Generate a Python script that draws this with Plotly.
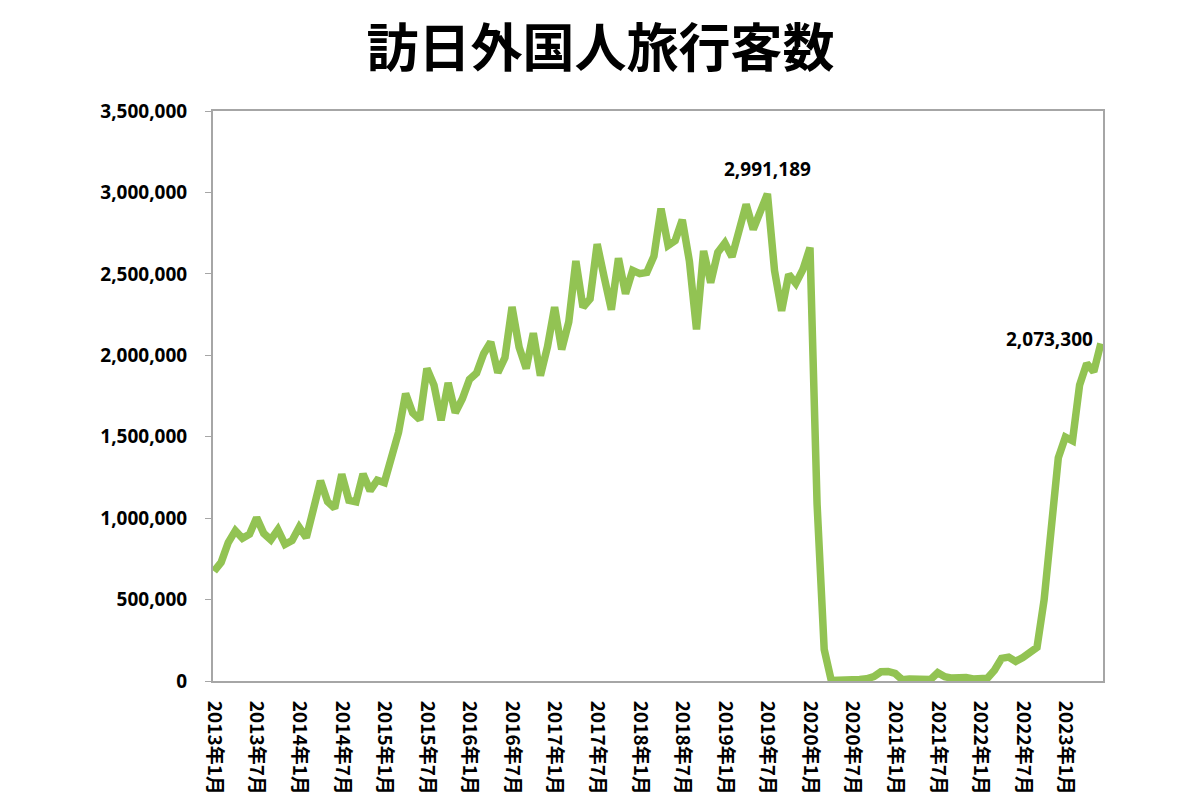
import plotly.graph_objects as go

# Monthly visitor arrivals, Jan 2013 - Jun 2023
years = list(range(2013, 2024))
visitors = [
    # 2013
    673800, 728700, 850300, 923000, 876300, 901400, 1003000, 906400, 867200, 929400, 839300, 862600,
    # 2014
    944000, 880100, 1054100, 1229300, 1101200, 1061200, 1270000, 1109400, 1100300, 1271300, 1168400, 1233000,
    # 2015
    1218200, 1387000, 1526400, 1764600, 1646000, 1604800, 1918400, 1817000, 1601300, 1830700, 1647600, 1733000,
    # 2016
    1851900, 1891400, 2009500, 2081600, 1893900, 1985700, 2296500, 2049200, 1918200, 2135900, 1875400, 2052600,
    # 2017
    2295700, 2035800, 2205700, 2579000, 2294700, 2346400, 2682500, 2478100, 2280000, 2595400, 2378200, 2521400,
    # 2018
    2501400, 2509300, 2607900, 2900700, 2675100, 2704600, 2832000, 2578000, 2159600, 2640600, 2446100, 2632000,
    # 2019
    2689300, 2604300, 2760100, 2926700, 2773100, 2880000, 2991189, 2520100, 2272900, 2496600, 2441300, 2526400,
    # 2020
    2661000, 1085100, 193700, 2900, 1700, 2600, 3800, 8700, 13700, 27400, 56700, 58700,
    # 2021
    46500, 7400, 12300, 10900, 10000, 9300, 51100, 25900, 17700, 22100, 20700, 12100,
    # 2022
    17800, 16700, 66100, 139500, 147000, 120400, 144500, 169900, 206600, 498600, 934500, 1370100,
    # 2023
    1497300, 1475300, 1817500, 1949100, 1899200, 2073300,
]
month_labels = []
for y in years:
    for m in range(1, 13):
        month_labels.append(f"{y}年{m}月")
month_labels = month_labels[:len(visitors)]

title_text = "訪日外国人旅行客数"
y_ticks = [0, 500000, 1000000, 1500000, 2000000, 2500000, 3000000, 3500000]

x_idx = list(range(len(visitors)))
tick_idx = [i for i in x_idx if i % 6 == 0]
tick_text = [month_labels[i] for i in tick_idx]

GREEN = "#92C353"
GRAY = "#A6A6A6"
CJK = "Noto Sans CJK JP"

fig = go.Figure()
fig.add_trace(go.Scatter(
    x=x_idx, y=visitors, mode="lines",
    line=dict(color=GREEN, width=7.5, shape="linear"),
    hoverinfo="skip", showlegend=False,
))

peak_i = visitors.index(max(visitors))
last_i = len(visitors) - 1
fig.add_annotation(x=peak_i, y=visitors[peak_i], text=f"{visitors[peak_i]:,}",
                   showarrow=False, yanchor="bottom", yshift=10,
                   font=dict(family="Open Sans", size=19, color="black", weight="bold"))
fig.add_annotation(x=last_i, y=visitors[last_i], text=f"{visitors[last_i]:,}",
                   showarrow=False, xanchor="right", xshift=-6, yshift=4,
                   font=dict(family="Open Sans", size=19, color="black", weight="bold"))

fig.update_layout(
    width=1201, height=809,
    margin=dict(l=213, r=98, t=111, b=128),
    paper_bgcolor="white", plot_bgcolor="white",
    title=dict(text=title_text, x=0.5, xanchor="center", y=0.94, yanchor="middle",
               font=dict(family=CJK, size=52, color="black", weight="bold")),
    xaxis=dict(
        range=[-0.15, 125.3], tickmode="array", tickvals=tick_idx, ticktext=tick_text,
        tickangle=90, showgrid=False, zeroline=False,
        showline=True, linecolor=GRAY, linewidth=2, mirror=True,
        ticks="", ticklabelstandoff=14,
        tickfont=dict(family=CJK, size=19, color="black", weight="bold"),
    ),
    yaxis=dict(
        range=[0, 3500000], tickmode="array", tickvals=y_ticks,
        tickformat=",d", showgrid=False, zeroline=False,
        showline=True, linecolor=GRAY, linewidth=2, mirror=True,
        ticks="outside", ticklen=6, tickcolor=GRAY, tickwidth=1, ticklabelstandoff=14,
        tickfont=dict(family="Open Sans", size=19, color="black", weight="bold"),
    ),
)

fig.write_html("out.html")
